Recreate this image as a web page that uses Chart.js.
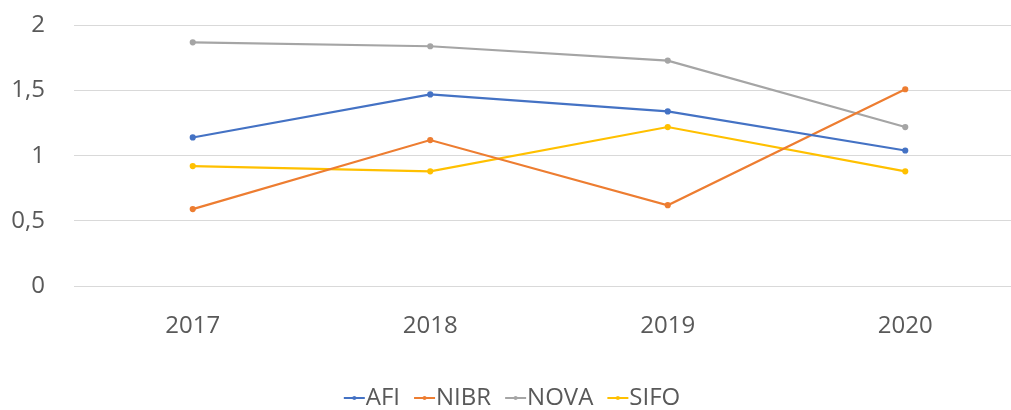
<!DOCTYPE html>
<html>
<head>
<meta charset="utf-8">
<script src="https://cdn.jsdelivr.net/npm/chart.js@4/dist/chart.umd.min.js"></script>
<style>
    body { margin: 0; background: #fff; overflow: hidden; }
    #wrap { width: 1036px; height: 438px; margin-top: -18px; }
</style>
</head>
<body>
<div id="wrap"><canvas id="lineChart"></canvas></div>
<script>
// categories and series
const years = ['2017', '2018', '2019', '2020'];
const afi = [1.14, 1.47, 1.34, 1.04];
const nibr = [0.59, 1.12, 0.62, 1.51];
const nova = [1.87, 1.84, 1.73, 1.22];
const sifo = [0.92, 0.88, 1.22, 0.88];
const yTicks = [0, 0.5, 1, 1.5, 2];

const colors = {
    AFI: '#4472C4',
    NIBR: '#ED7D31',
    NOVA: '#A5A5A5',
    SIFO: '#FFC000'
};

// line-with-dot legend marker; drawn off-centre so it sits close to the text
function legendMarker (color) {
    const c = document.createElement('canvas');
    c.width = 40;
    c.height = 10;
    const ctx = c.getContext('2d');
    ctx.strokeStyle = color;
    ctx.lineWidth = 2;
    ctx.beginPath();
    ctx.moveTo(15, 5);
    ctx.lineTo(36, 5);
    ctx.stroke();
    ctx.fillStyle = color;
    ctx.beginPath();
    ctx.arc(25.5, 5, 2, 0, Math.PI * 2);
    ctx.fill();
    return c;
}

function makeSet (label, values) {
    return {
        label: label,
        data: values,
        borderColor: colors[label],
        backgroundColor: colors[label],
        borderWidth: 2.2,
        pointRadius: 2,
        pointHoverRadius: 2,
        tension: 0
    };
}

const data = {
    labels: years,
    datasets: [
        makeSet('AFI', afi),
        makeSet('NIBR', nibr),
        makeSet('NOVA', nova),
        makeSet('SIFO', sifo)
    ]
};

const tickFont = { family: 'Open Sans', size: 24 };

const config = {
    type: 'line',
    data: data,
    options: {
        responsive: true,
        maintainAspectRatio: false,
        animation: false,
        layout: {
            padding: { top: 0, left: 0, right: 12, bottom: 0 }
        },
        scales: {
            x: {
                offset: true,
                grid: { display: false },
                border: { display: false },
                ticks: {
                    color: '#595959',
                    font: tickFont,
                    padding: 18
                },
                afterFit: function (axis) {
                    axis.height = 86;
                }
            },
            y: {
                min: 0,
                max: 2,
                afterBuildTicks: function (axis) {
                    axis.ticks = yTicks.map(function (v) { return { value: v }; });
                },
                grid: { color: '#d9d9d9', drawTicks: false, lineWidth: 1 },
                border: { display: false },
                ticks: {
                    color: '#595959',
                    font: tickFont,
                    padding: 29,
                    callback: function (value) {
                        return String(value).replace('.', ',');
                    }
                },
                afterFit: function (axis) {
                    axis.width = 74;
                }
            }
        },
        plugins: {
            legend: {
                position: 'bottom',
                labels: {
                    color: '#595959',
                    font: tickFont,
                    usePointStyle: true,
                    pointStyleWidth: 10,
                    padding: 14,
                    generateLabels: function (chart) {
                        const items = Chart.defaults.plugins.legend.labels.generateLabels(chart);
                        items.forEach(function (item) {
                            item.pointStyle = legendMarker(colors[item.text]);
                        });
                        return items;
                    }
                }
            },
            tooltip: { enabled: false }
        }
    }
};

const myChart = new Chart(document.getElementById('lineChart'), config);
</script>
</body>
</html>
